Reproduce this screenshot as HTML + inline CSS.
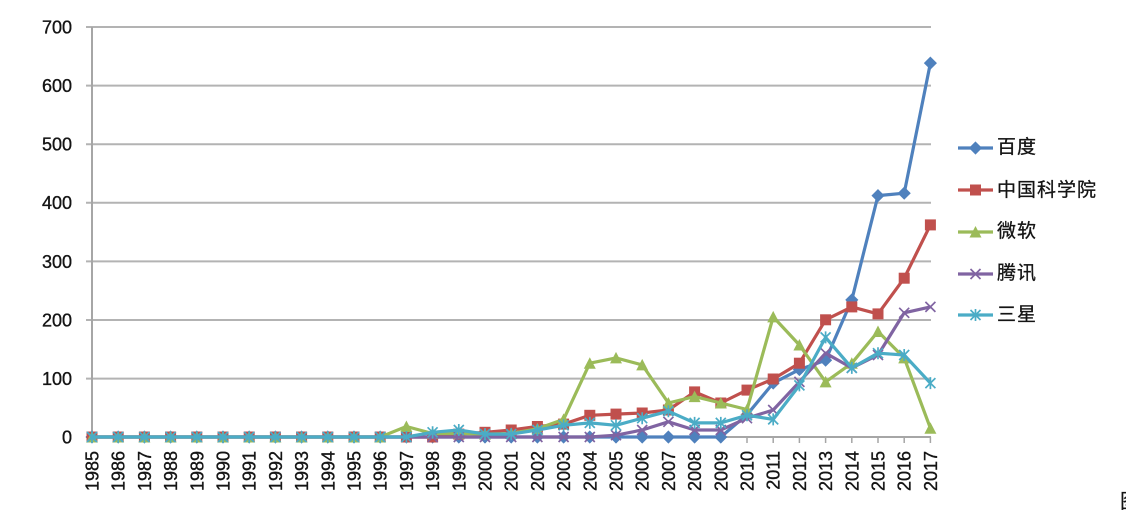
<!DOCTYPE html>
<html>
<head>
<meta charset="utf-8">
<style>
  html,body{margin:0;padding:0;background:#fff;}
  body{width:1126px;height:512px;overflow:hidden;position:relative;}
  svg{position:absolute;left:0;top:0;}
  .ax{font-family:"Liberation Sans",sans-serif;font-size:18px;fill:#141414;stroke:#141414;stroke-width:0.35px;}
  .lg{font-family:"Liberation Sans","Noto Sans CJK SC",sans-serif;font-size:19px;letter-spacing:1px;fill:#141414;stroke:#141414;stroke-width:0.3px;}
</style>
</head>
<body>
<svg width="1126" height="512" viewBox="0 0 1126 512" xmlns="http://www.w3.org/2000/svg">
  <defs>
    <marker id="md" markerWidth="14" markerHeight="14" refX="7" refY="7" markerUnits="userSpaceOnUse">
      <path d="M7 1 L13 7 L7 13 L1 7Z" fill="#4F81BD" stroke="#4F81BD" stroke-width="0.8"/>
    </marker>
    <marker id="ms" markerWidth="14" markerHeight="14" refX="7" refY="7" markerUnits="userSpaceOnUse">
      <rect x="1.5" y="1.5" width="11" height="11" fill="#C0504D"/>
    </marker>
    <marker id="mt" markerWidth="14" markerHeight="14" refX="7" refY="7" markerUnits="userSpaceOnUse">
      <path d="M7 1 L13 12.5 L1 12.5Z" fill="#9BBB59"/>
    </marker>
    <marker id="mx" markerWidth="14" markerHeight="14" refX="7" refY="7" markerUnits="userSpaceOnUse">
      <path d="M2 2 L12 12 M12 2 L2 12" stroke="#8064A2" stroke-width="1.7" fill="none"/>
    </marker>
    <marker id="ma" markerWidth="14" markerHeight="14" refX="7" refY="7" markerUnits="userSpaceOnUse">
      <path d="M2 2 L12 12 M12 2 L2 12 M7 1 L7 13" stroke="#4BACC6" stroke-width="1.7" fill="none"/>
    </marker>
  </defs>

  <!-- gridlines -->
  <g stroke="#b3b3b3" stroke-width="2">
    <line x1="86" y1="27" x2="931" y2="27"/>
    <line x1="86" y1="85.6" x2="931" y2="85.6"/>
    <line x1="86" y1="144.2" x2="931" y2="144.2"/>
    <line x1="86" y1="202.8" x2="931" y2="202.8"/>
    <line x1="86" y1="261.4" x2="931" y2="261.4"/>
    <line x1="86" y1="320" x2="931" y2="320"/>
    <line x1="86" y1="378.6" x2="931" y2="378.6"/>
  </g>
  <!-- axes -->
  <g stroke="#a6a6a6" stroke-width="2">
    <line x1="92" y1="27" x2="92" y2="443"/>
    <line x1="86" y1="437" x2="931" y2="437"/>
  </g>
  <g stroke="#a6a6a6" stroke-width="1.5">
    <path d="M118.2 437V443M144.4 437V443M170.6 437V443M196.8 437V443M223 437V443M249.2 437V443M275.4 437V443M301.6 437V443M327.8 437V443M354 437V443M380.2 437V443M406.4 437V443M432.6 437V443M458.8 437V443M485 437V443M511.2 437V443M537.4 437V443M563.6 437V443M589.8 437V443M616 437V443M642.2 437V443M668.4 437V443M694.6 437V443M720.8 437V443M747 437V443M773.2 437V443M799.4 437V443M825.6 437V443M851.8 437V443M878 437V443M904.2 437V443M930.4 437V443"/>
  </g>

  <!-- y labels -->
  <g class="ax" text-anchor="end">
    <text x="72" y="33.5">700</text>
    <text x="72" y="92">600</text>
    <text x="72" y="150.5">500</text>
    <text x="72" y="209">400</text>
    <text x="72" y="268">300</text>
    <text x="72" y="326.5">200</text>
    <text x="72" y="385">100</text>
    <text x="72" y="443.5">0</text>
  </g>

  <!-- x labels -->
  <g class="ax" text-anchor="end">
    <text transform="translate(98.5,451) rotate(-90)">1985</text>
    <text transform="translate(124.7,451) rotate(-90)">1986</text>
    <text transform="translate(150.9,451) rotate(-90)">1987</text>
    <text transform="translate(177.1,451) rotate(-90)">1988</text>
    <text transform="translate(203.3,451) rotate(-90)">1989</text>
    <text transform="translate(229.5,451) rotate(-90)">1990</text>
    <text transform="translate(255.7,451) rotate(-90)">1991</text>
    <text transform="translate(281.9,451) rotate(-90)">1992</text>
    <text transform="translate(308.1,451) rotate(-90)">1993</text>
    <text transform="translate(334.3,451) rotate(-90)">1994</text>
    <text transform="translate(360.5,451) rotate(-90)">1995</text>
    <text transform="translate(386.7,451) rotate(-90)">1996</text>
    <text transform="translate(412.9,451) rotate(-90)">1997</text>
    <text transform="translate(439.1,451) rotate(-90)">1998</text>
    <text transform="translate(465.3,451) rotate(-90)">1999</text>
    <text transform="translate(491.5,451) rotate(-90)">2000</text>
    <text transform="translate(517.7,451) rotate(-90)">2001</text>
    <text transform="translate(543.9,451) rotate(-90)">2002</text>
    <text transform="translate(570.1,451) rotate(-90)">2003</text>
    <text transform="translate(596.3,451) rotate(-90)">2004</text>
    <text transform="translate(622.5,451) rotate(-90)">2005</text>
    <text transform="translate(648.7,451) rotate(-90)">2006</text>
    <text transform="translate(674.9,451) rotate(-90)">2007</text>
    <text transform="translate(701.1,451) rotate(-90)">2008</text>
    <text transform="translate(727.3,451) rotate(-90)">2009</text>
    <text transform="translate(753.5,451) rotate(-90)">2010</text>
    <text transform="translate(779.7,451) rotate(-90)">2011</text>
    <text transform="translate(805.9,451) rotate(-90)">2012</text>
    <text transform="translate(832.1,451) rotate(-90)">2013</text>
    <text transform="translate(858.3,451) rotate(-90)">2014</text>
    <text transform="translate(884.5,451) rotate(-90)">2015</text>
    <text transform="translate(910.7,451) rotate(-90)">2016</text>
    <text transform="translate(936.9,451) rotate(-90)">2017</text>
  </g>

  <!-- series -->
  <g fill="none" stroke-width="3.2" stroke-linejoin="round">
    <!-- 百度 -->
    <polyline stroke="#4F81BD" marker-start="url(#md)" marker-mid="url(#md)" marker-end="url(#md)"
      points="92,437 118.2,437 144.4,437 170.6,437 196.8,437 223,437 249.2,437 275.4,437 301.6,437 327.8,437 354,437 380.2,437 406.4,437 432.6,437 458.8,437 485,437 511.2,437 537.4,437 563.6,437 589.8,437 616,437 642.2,437 668.4,437 694.6,437 720.8,437 747,414.7 773.2,383.1 799.4,369.6 825.6,360.2 851.8,299.9 878,195.6 904.2,193.2 930.4,63.1"/>
    <!-- 中国科学院 -->
    <polyline stroke="#C0504D" marker-start="url(#ms)" marker-mid="url(#ms)" marker-end="url(#ms)"
      points="92,437 118.2,437 144.4,437 170.6,437 196.8,437 223,437 249.2,437 275.4,437 301.6,437 327.8,437 354,437 380.2,437 406.4,437 432.6,437 458.8,434.1 485,432.3 511.2,430 537.4,426.5 563.6,424.1 589.8,415.3 616,414.1 642.2,413 668.4,410 694.6,391.9 720.8,403 747,390.1 773.2,379 799.4,363.2 825.6,319.8 851.8,306.9 878,313.9 904.2,278.2 930.4,224.9"/>
    <!-- 微软 -->
    <polyline stroke="#9BBB59" marker-start="url(#mt)" marker-mid="url(#mt)" marker-end="url(#mt)"
      points="92,437 118.2,437 144.4,437 170.6,437 196.8,437 223,437 249.2,437 275.4,437 301.6,437 327.8,437 354,437 380.2,437 406.4,426.5 432.6,433.5 458.8,433.5 485,434.1 511.2,433.5 537.4,428.8 563.6,419.4 589.8,363.2 616,357.9 642.2,364.9 668.4,403 694.6,396.6 720.8,403 747,409.5 773.2,316.9 799.4,345 825.6,381.9 851.8,363.2 878,331.5 904.2,357.9 930.4,428.2"/>
    <!-- 腾讯 -->
    <polyline stroke="#8064A2" marker-start="url(#mx)" marker-mid="url(#mx)" marker-end="url(#mx)"
      points="92,437 118.2,437 144.4,437 170.6,437 196.8,437 223,437 249.2,437 275.4,437 301.6,437 327.8,437 354,437 380.2,437 406.4,437 432.6,437 458.8,437 485,437 511.2,437 537.4,437 563.6,437 589.8,437 616,435.2 642.2,430 668.4,421.8 694.6,430 720.8,430 747,418.2 773.2,410 799.4,381.9 825.6,353.2 851.8,367.9 878,355 904.2,312.8 930.4,306.9"/>
    <!-- 三星 -->
    <polyline stroke="#4BACC6" marker-start="url(#ma)" marker-mid="url(#ma)" marker-end="url(#ma)"
      points="92,437 118.2,437 144.4,437 170.6,437 196.8,437 223,437 249.2,437 275.4,437 301.6,437 327.8,437 354,437 380.2,437 406.4,437 432.6,432.3 458.8,430 485,434.1 511.2,434.1 537.4,430 563.6,425.3 589.8,422.9 616,425.3 642.2,418.2 668.4,411.2 694.6,422.9 720.8,422.9 747,415.3 773.2,419.4 799.4,385.4 825.6,337.4 851.8,367.9 878,353.2 904.2,355 930.4,383.1"/>
  </g>

  <!-- legend -->
  <g fill="none" stroke-width="3.2">
    <polyline stroke="#4F81BD" points="958,148 975.5,148 993,148" marker-mid="url(#md)"/>
    <polyline stroke="#C0504D" points="958,190 975.5,190 993,190" marker-mid="url(#ms)"/>
    <polyline stroke="#9BBB59" points="958,232 975.5,232 993,232" marker-mid="url(#mt)"/>
    <polyline stroke="#8064A2" points="958,274 975.5,274 993,274" marker-mid="url(#mx)"/>
    <polyline stroke="#4BACC6" points="958,315 975.5,315 993,315" marker-mid="url(#ma)"/>
  </g>
  <g class="lg">
    <text x="997" y="153">百度</text>
    <text x="997" y="196">中国科学院</text>
    <text x="997" y="237">微软</text>
    <text x="997" y="279">腾讯</text>
    <text x="997" y="320.5">三星</text>
  </g>

  <text x="1120" y="508" class="lg" style="font-size:20px;letter-spacing:0">图</text>
</svg>
</body>
</html>
